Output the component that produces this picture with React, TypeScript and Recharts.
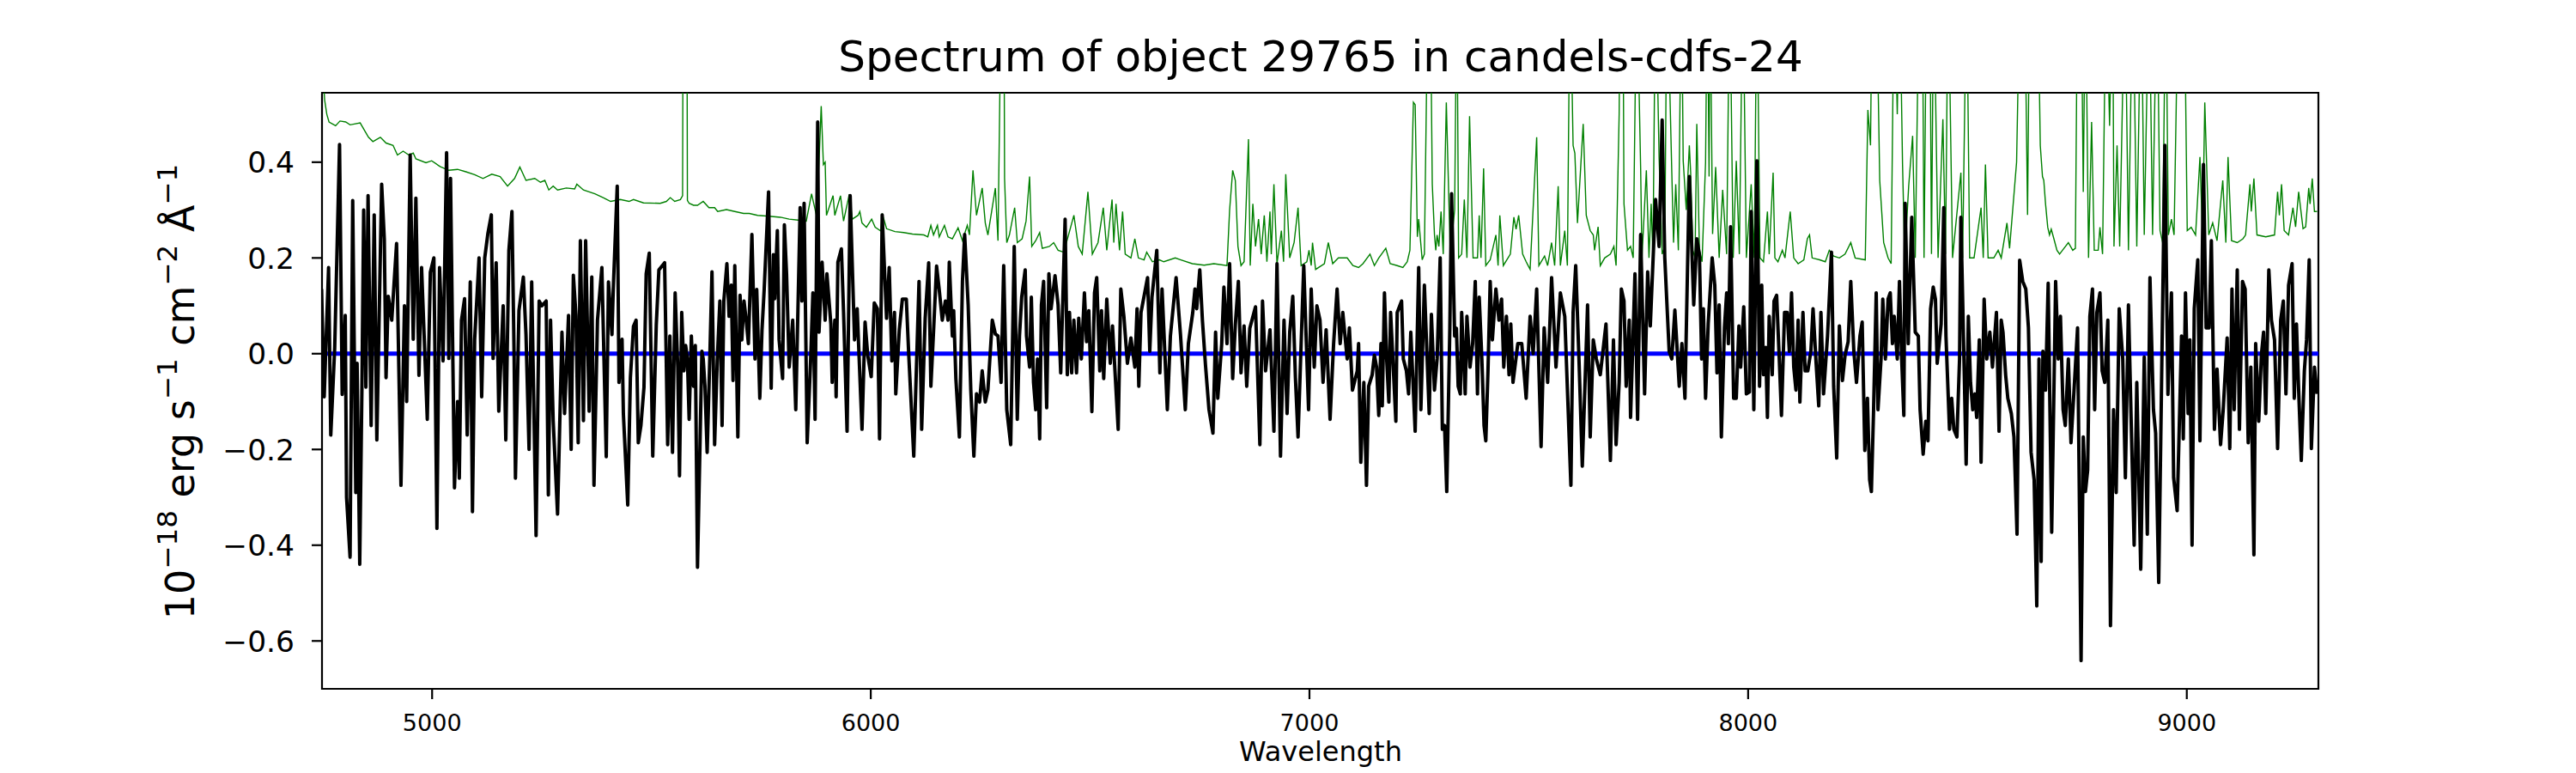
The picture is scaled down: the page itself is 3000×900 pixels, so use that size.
import { LineChart, Line, XAxis, YAxis, ReferenceArea } from 'recharts';

// wavelength range and ticks
const waveMin = 4749;
const waveMax = 9300;
const fluxMin = -0.7;
const fluxMax = 0.545;
const waveTicks = [5000, 6000, 7000, 8000, 9000];
const fluxTicks = [-0.6, -0.4, -0.2, 0.0, 0.2, 0.4];

// object spectrum, [wavelength, flux] pairs
const flux4750 = [
  [4748, 0.135], [4754, -0.09], [4764, 0.18], [4769, -0.17], [4778, 0.013], [4789, 0.437], [4795, -0.085],
  [4802, 0.08], [4805, -0.3], [4813, -0.425], [4819, 0.32], [4826, -0.29], [4829, -0.02], [4835, -0.44],
  [4840, -0.07], [4844, 0.3], [4849, -0.07], [4854, 0.33], [4861, -0.15], [4868, 0.29], [4874, -0.18],
  [4885, 0.354], [4891, 0.24], [4895, -0.05], [4900, 0.12], [4908, 0.07], [4919, 0.23], [4929, -0.275],
  [4937, 0.1], [4942, -0.1], [4950, 0.415], [4957, 0.03], [4963, 0.325], [4970, -0.045], [4976, 0.18],
  [4989, -0.137], [4996, 0.17], [5004, 0.2], [5011, -0.365], [5017, 0.18], [5025, -0.015], [5033, 0.42],
  [5038, -0.01], [5042, 0.366], [5051, -0.28], [5058, -0.1], [5062, -0.26], [5067, 0.07], [5074, 0.115],
  [5080, -0.17], [5087, 0.15], [5092, -0.33], [5097, 0.03], [5107, 0.2], [5113, -0.09], [5120, 0.2],
  [5127, 0.25], [5135, 0.29], [5139, -0.01], [5146, 0.19], [5152, -0.12], [5162, 0.1], [5168, -0.18],
  [5175, 0.215], [5182, 0.297], [5187, -0.01], [5190, -0.26], [5198, 0.09], [5208, 0.16], [5214, 0.04],
  [5221, -0.2], [5227, 0.15], [5237, -0.38], [5244, 0.11], [5250, 0.1], [5260, 0.11], [5265, -0.295],
  [5270, 0.07], [5276, -0.14], [5286, -0.335], [5296, 0.045], [5302, -0.125], [5311, 0.08], [5317, -0.2],
  [5322, 0.164], [5328, 0.08], [5333, -0.186], [5338, 0.236], [5345, -0.14], [5350, 0.236], [5358, -0.12],
  [5364, 0.16], [5369, -0.275], [5377, 0.07], [5387, 0.18], [5397, -0.215], [5402, 0.15], [5410, 0.04],
  [5413, 0.135], [5422, 0.35], [5426, -0.06], [5433, 0.03], [5436, -0.125], [5446, -0.316], [5452, -0.05],
  [5459, 0.057], [5465, 0.07], [5470, -0.186], [5476, -0.15], [5483, -0.07], [5488, 0.167], [5495, 0.21],
  [5503, -0.214], [5511, 0.06], [5517, 0.175],
];

const flux5520 = [
  [5530, 0.19], [5537, -0.19], [5542, 0.037], [5548, -0.206], [5554, 0.127], [5560, -0.028], [5564, -0.255],
  [5569, 0.086], [5574, -0.036], [5578, 0.017], [5582, -0.011], [5586, -0.137], [5591, 0.037], [5596, -0.068],
  [5600, 0.017], [5605, -0.446], [5615, 0.005], [5618, -0.011], [5622, -0.068], [5627, -0.206], [5633, -0.011],
  [5638, 0.171], [5644, -0.19], [5650, -0.015], [5656, 0.11], [5661, -0.15], [5665, 0.11], [5672, 0.188],
  [5677, 0.078], [5682, 0.143], [5686, -0.056], [5690, 0.184], [5697, -0.174], [5702, 0.122], [5706, 0.029],
  [5711, 0.11], [5716, 0.07], [5721, 0.021], [5729, 0.249], [5736, -0.011], [5740, 0.134], [5747, -0.093],
  [5752, 0.049], [5757, 0.134], [5767, 0.338], [5773, -0.072], [5778, 0.207], [5781, 0.115], [5787, 0.257],
  [5791, 0.029], [5799, -0.052], [5803, 0.269], [5808, 0.167], [5814, -0.028], [5822, 0.07], [5829, -0.117],
  [5839, 0.305], [5843, 0.11], [5848, 0.314], [5855, -0.186], [5863, -0.011], [5868, 0.127], [5873, -0.137],
  [5879, 0.484], [5882, 0.045], [5889, 0.191], [5896, 0.07], [5900, 0.167], [5909, 0.062], [5912, -0.06],
  [5918, 0.07], [5921, -0.09], [5925, 0.191], [5933, 0.219], [5938, 0.086], [5946, -0.162], [5953, 0.33],
  [5963, 0.029], [5969, 0.094], [5980, -0.158], [5987, 0.066], [5993, -0.003], [6001, -0.048], [6008, 0.106],
  [6015, 0.094], [6020, -0.178], [6026, 0.29], [6036, 0.074], [6042, 0.18], [6048, -0.015], [6054, 0.086],
  [6057, -0.084], [6065, 0.05], [6072, 0.114], [6081, 0.114], [6087, -0.011], [6098, -0.214], [6110, 0.151],
  [6116, -0.158], [6124, 0.074], [6132, 0.19], [6137, -0.068], [6143, 0.045], [6150, 0.183], [6156, 0.134],
  [6163, 0.07], [6170, 0.11], [6176, 0.07], [6179, 0.191], [6186, 0.037], [6189, 0.09], [6194, -0.052],
  [6202, -0.174], [6209, 0.151], [6214, 0.249], [6222, 0.102], [6228, -0.076], [6235, -0.214], [6241, -0.084],
  [6248, -0.101], [6254, -0.036], [6261, -0.101], [6267, -0.076], [6277, 0.07], [6284, 0.041], [6290, 0.037],
  [6297, -0.06],
];

const flux6300 = [
  [6303, 0.184], [6310, -0.117], [6319, -0.19], [6327, 0.224], [6334, -0.137], [6339, 0.037], [6344, 0.118],
  [6352, 0.175], [6355, 0.037], [6362, -0.028], [6366, 0.118], [6371, -0.06], [6376, -0.117], [6380, -0.011],
  [6385, -0.178], [6389, 0.102], [6394, 0.151], [6401, -0.113], [6406, 0.167], [6411, 0.094], [6420, 0.163],
  [6427, 0.102], [6433, -0.04], [6443, 0.281], [6448, -0.044], [6453, 0.086], [6458, -0.04], [6463, 0.07],
  [6469, -0.04], [6474, 0.074], [6480, -0.011], [6487, 0.127], [6492, 0.025], [6497, 0.09], [6504, -0.121],
  [6510, 0.127], [6515, 0.159], [6522, -0.036], [6526, 0.09], [6531, -0.052], [6538, 0.114], [6546, -0.02],
  [6551, 0.058], [6564, -0.158], [6570, 0.135], [6577, 0.078], [6585, -0.02], [6593, 0.033], [6602, -0.028],
  [6607, 0.094], [6611, -0.068], [6616, 0.086], [6631, 0.159], [6636, 0.005], [6641, 0.118], [6652, 0.216],
  [6659, -0.04], [6664, 0.135], [6676, -0.117], [6683, 0.037], [6696, 0.159], [6706, 0.04], [6717, -0.117],
  [6724, 0.021], [6734, 0.086], [6739, 0.135], [6743, 0.094], [6750, 0.175], [6756, 0.07], [6763, -0.024],
  [6771, -0.117], [6780, -0.166], [6786, 0.045], [6791, -0.093], [6800, 0.021], [6805, 0.139], [6812, 0.021],
  [6818, 0.188], [6825, -0.052], [6831, 0.06], [6838, 0.151], [6844, -0.04], [6851, 0.058], [6857, -0.068],
  [6864, 0.053], [6877, 0.098], [6887, -0.19], [6893, 0.11], [6900, -0.036], [6910, 0.05], [6919, -0.162],
  [6926, 0.188], [6934, -0.214], [6942, 0.07], [6949, -0.125], [6955, 0.045], [6962, 0.12], [6968, -0.05],
  [6974, -0.174], [6981, 0.02], [6987, 0.184], [6998, -0.117], [7004, 0.135], [7011, -0.028], [7017, 0.1],
  [7024, 0.07], [7031, -0.06], [7038, 0.05], [7047, -0.137], [7055, 0.02], [7063, 0.135], [7070, 0.021],
  [7076, 0.086], [7086, -0.011],
];

const flux7090 = [
  [7091, 0.054], [7098, -0.076], [7109, -0.036], [7112, 0.021], [7117, -0.227], [7124, -0.06], [7130, -0.275],
  [7135, -0.068], [7143, -0.044], [7148, -0.003], [7153, -0.028], [7158, -0.129], [7163, 0.021], [7166, -0.109],
  [7171, 0.127], [7176, -0.011], [7181, -0.101], [7185, 0.086], [7197, -0.141], [7200, 0.086], [7210, 0.11],
  [7214, -0.011], [7221, -0.036], [7226, -0.084], [7231, 0.045], [7241, -0.162], [7249, 0.18], [7254, -0.117],
  [7262, 0.143], [7273, -0.125], [7278, 0.082], [7285, -0.076], [7291, -0.011], [7298, 0.2], [7303, -0.158],
  [7308, -0.15], [7313, -0.288], [7320, 0.053], [7324, 0.334], [7331, 0.037], [7335, 0.053], [7339, -0.068],
  [7344, -0.084], [7347, 0.086], [7355, -0.084], [7359, 0.078], [7366, -0.028], [7372, 0.021], [7378, 0.151],
  [7383, -0.084], [7387, 0.118], [7393, -0.011], [7398, -0.15], [7402, -0.182], [7407, -0.036], [7412, 0.151],
  [7417, 0.029], [7425, 0.135], [7432, 0.07], [7438, 0.114], [7443, -0.028], [7449, 0.078], [7455, -0.044],
  [7459, 0.062], [7464, -0.06], [7475, 0.021], [7484, 0.021], [7494, -0.093], [7503, 0.078], [7510, 0.0],
  [7518, 0.135], [7528, -0.194], [7535, 0.054], [7543, -0.06], [7552, 0.159], [7562, -0.028], [7572, 0.127],
  [7582, 0.078], [7596, -0.275], [7601, 0.086], [7607, 0.184], [7614, 0.0], [7622, -0.235], [7634, 0.102],
  [7640, -0.174], [7647, 0.029], [7654, -0.011], [7663, -0.044], [7676, 0.062], [7686, -0.223], [7693, 0.029],
  [7699, -0.19], [7706, -0.06], [7711, 0.135], [7717, 0.11], [7722, -0.068], [7729, 0.07], [7732, -0.133],
  [7742, 0.167], [7748, -0.137], [7755, 0.249], [7764, -0.084], [7771, 0.171], [7777, 0.058], [7789, 0.322],
  [7797, 0.224], [7804, 0.488], [7810, 0.2], [7820, 0.005], [7826, -0.011], [7833, 0.091], [7843, -0.068],
  [7849, 0.021], [7856, -0.093], [7866, 0.37],
];

const flux7870 = [
  [7876, 0.102], [7883, 0.24], [7889, 0.207], [7894, -0.011], [7898, 0.094], [7903, -0.093], [7909, 0.062],
  [7918, 0.2], [7924, 0.143], [7929, -0.04], [7934, 0.102], [7939, -0.174], [7946, 0.054], [7951, 0.127],
  [7955, 0.021], [7960, 0.265], [7967, -0.093], [7973, -0.093], [7979, 0.058], [7983, -0.028], [7990, 0.098],
  [7996, -0.084], [8003, -0.08], [8007, 0.297], [8013, -0.117], [8020, 0.403], [8026, -0.068], [8031, 0.143],
  [8035, -0.044], [8040, 0.013], [8044, -0.133], [8048, 0.078], [8055, -0.044], [8059, 0.11], [8065, 0.122],
  [8071, -0.011], [8076, -0.129], [8083, 0.086], [8089, 0.086], [8094, 0.005], [8099, 0.127], [8104, -0.028],
  [8109, -0.076], [8114, 0.07], [8118, -0.101], [8125, 0.086], [8130, -0.036], [8136, -0.036], [8143, 0.005],
  [8148, 0.094], [8155, -0.02], [8161, -0.109], [8166, 0.086], [8172, -0.084], [8181, 0.037], [8190, 0.212],
  [8195, -0.068], [8202, -0.218], [8208, 0.058], [8215, -0.056], [8221, -0.003], [8228, 0.025], [8234, 0.151],
  [8241, 0.005], [8247, -0.06], [8255, 0.037], [8260, 0.066], [8266, -0.202], [8272, -0.093], [8277, -0.263],
  [8281, -0.288], [8286, -0.117], [8292, 0.127], [8296, -0.117], [8303, -0.011], [8307, 0.114], [8313, -0.011],
  [8319, 0.114], [8324, 0.127], [8329, 0.021], [8333, 0.078], [8340, -0.011], [8345, 0.151], [8350, -0.011],
  [8355, -0.129], [8358, 0.314], [8365, 0.021], [8373, 0.285], [8381, 0.045], [8388, 0.037], [8392, -0.117],
  [8399, -0.21], [8405, -0.141], [8410, -0.182], [8416, 0.094], [8422, 0.139], [8427, 0.114], [8431, -0.02],
  [8440, 0.062], [8446, 0.305], [8451, 0.037], [8459, -0.158], [8464, -0.093], [8469, -0.158], [8476, -0.174],
  [8482, -0.011], [8485, 0.285], [8492, -0.011], [8497, -0.231], [8502, 0.078], [8507, -0.06], [8512, -0.117],
  [8517, -0.084], [8521, -0.133], [8527, 0.029], [8531, -0.227], [8538, 0.114], [8544, -0.011], [8551, 0.045],
  [8557, -0.028], [8566, 0.086], [8572, -0.162], [8577, 0.07], [8581, 0.045], [8587, -0.044], [8592, -0.093],
  [8600, -0.125], [8606, -0.174], [8613, -0.377], [8619, 0.195], [8626, 0.151], [8633, 0.135], [8639, 0.054],
  [8645, -0.206], [8652, -0.263],
];

const flux8650 = [
  [8658, -0.527], [8663, -0.011], [8668, -0.434], [8672, 0.005], [8678, -0.076], [8684, 0.147], [8692, -0.373],
  [8701, 0.151], [8707, -0.011], [8712, 0.078], [8718, -0.117], [8723, -0.15], [8730, -0.011], [8736, -0.186],
  [8743, -0.076], [8751, 0.054], [8759, -0.641], [8764, -0.174], [8769, -0.288], [8774, -0.243], [8779, 0.078],
  [8785, 0.135], [8790, -0.117], [8795, 0.086], [8802, 0.127], [8807, -0.036], [8813, -0.06], [8820, 0.07],
  [8826, -0.568], [8833, -0.117], [8839, -0.29], [8846, 0.094], [8854, -0.011], [8860, -0.259], [8867, 0.102],
  [8873, -0.133], [8880, -0.4], [8886, -0.06], [8895, -0.45], [8903, -0.007], [8910, -0.377], [8916, 0.159],
  [8924, -0.117], [8929, -0.166], [8936, -0.478], [8942, -0.093], [8950, 0.435], [8957, -0.085], [8965, 0.127],
  [8970, -0.259], [8978, -0.328], [8988, 0.037], [8992, -0.178], [8997, 0.127], [9003, -0.125], [9007, 0.029],
  [9012, -0.4], [9017, 0.094], [9025, 0.196], [9030, -0.182], [9038, 0.395], [9044, 0.054], [9051, 0.054],
  [9056, 0.236], [9063, -0.158], [9069, -0.032], [9077, -0.19], [9083, -0.117], [9092, 0.033], [9098, -0.198],
  [9103, 0.135], [9108, -0.117], [9115, 0.175], [9120, -0.158], [9127, 0.151], [9133, 0.135], [9140, -0.186],
  [9146, -0.028], [9153, -0.42], [9157, 0.021], [9164, -0.141], [9170, -0.003], [9175, 0.045], [9180, -0.125],
  [9187, 0.175], [9193, 0.07], [9200, 0.029], [9207, -0.198], [9214, 0.07], [9220, 0.11], [9226, -0.084],
  [9232, 0.143], [9240, 0.188], [9245, -0.093], [9250, 0.062], [9255, -0.076], [9261, -0.223], [9268, -0.036],
  [9273, 0.029], [9279, 0.196], [9284, -0.198], [9291, -0.028], [9297, -0.084],
];

// noise spectrum (green), [wavelength, sigma] pairs; sky lines run off the top
const noise4750 = [
  [4749, 0.62], [4755, 0.53], [4760, 0.5], [4765, 0.484], [4780, 0.476], [4790, 0.486], [4803, 0.484],
  [4813, 0.478], [4836, 0.482], [4855, 0.452], [4865, 0.443], [4882, 0.452], [4895, 0.44], [4911, 0.435],
  [4921, 0.415], [4934, 0.423], [4947, 0.415], [4957, 0.419], [4963, 0.407], [4986, 0.399], [4999, 0.403],
  [5018, 0.391], [5038, 0.383], [5058, 0.385], [5077, 0.38], [5097, 0.374], [5116, 0.366], [5136, 0.375],
  [5155, 0.37], [5172, 0.35], [5188, 0.366], [5200, 0.39], [5214, 0.362], [5234, 0.366], [5247, 0.358],
  [5257, 0.362], [5266, 0.342], [5276, 0.35], [5286, 0.342], [5306, 0.346], [5325, 0.344], [5330, 0.354],
  [5345, 0.342], [5371, 0.334], [5390, 0.326], [5407, 0.318], [5429, 0.322], [5449, 0.318], [5459, 0.322],
  [5482, 0.315], [5520, 0.314],
];

const noise5520 = [
  [5534, 0.318], [5543, 0.326], [5553, 0.318], [5566, 0.322], [5571, 0.33], [5574, 1.5], [5579, 1.5],
  [5582, 0.32], [5586, 0.314], [5596, 0.31], [5605, 0.31], [5618, 0.318], [5631, 0.305], [5644, 0.305],
  [5651, 0.297], [5671, 0.301], [5690, 0.297], [5710, 0.293], [5723, 0.293], [5742, 0.289], [5768, 0.287],
  [5794, 0.285], [5814, 0.281], [5834, 0.279], [5853, 0.277], [5865, 0.334], [5876, 0.289], [5882, 0.4],
  [5887, 0.517], [5892, 0.395], [5896, 0.4], [5899, 0.289], [5914, 0.33], [5918, 0.289], [5931, 0.33],
  [5938, 0.277], [5951, 0.333], [5958, 0.281], [5971, 0.289], [5975, 0.297], [5980, 0.273], [5990, 0.264],
  [6002, 0.281], [6010, 0.264], [6023, 0.256], [6026, 0.293], [6036, 0.261], [6055, 0.255], [6075, 0.253],
  [6095, 0.25], [6121, 0.248], [6130, 0.244], [6137, 0.268], [6143, 0.248], [6152, 0.268], [6156, 0.244],
  [6168, 0.268], [6176, 0.244], [6186, 0.24], [6199, 0.263], [6209, 0.236], [6220, 0.268], [6225, 0.248],
  [6233, 0.383], [6241, 0.289], [6254, 0.346], [6261, 0.273], [6267, 0.248], [6276, 0.3], [6284, 0.346],
  [6290, 0.236], [6295, 0.6], [6297, 1.5], [6301, 1.5],
];

const noise6300 = [
  [6305, 0.366], [6310, 0.232], [6316, 0.248], [6328, 0.305], [6334, 0.232], [6345, 0.24], [6354, 0.277],
  [6362, 0.37], [6367, 0.224], [6376, 0.236], [6385, 0.253], [6391, 0.22], [6407, 0.224], [6417, 0.232],
  [6427, 0.216], [6440, 0.212], [6463, 0.289], [6473, 0.224], [6482, 0.208], [6495, 0.338], [6505, 0.208],
  [6518, 0.232], [6530, 0.305], [6538, 0.216], [6550, 0.322], [6554, 0.232], [6559, 0.313], [6567, 0.216],
  [6574, 0.297], [6580, 0.208], [6593, 0.2], [6602, 0.24], [6610, 0.2], [6623, 0.196], [6629, 0.212],
  [6642, 0.192], [6658, 0.196], [6668, 0.192], [6694, 0.2], [6707, 0.196], [6733, 0.188], [6760, 0.185],
  [6782, 0.188], [6812, 0.184], [6818, 0.3], [6825, 0.383], [6831, 0.362], [6837, 0.224], [6844, 0.184],
  [6851, 0.192], [6861, 0.448], [6865, 0.184], [6871, 0.313], [6877, 0.224], [6884, 0.281], [6890, 0.208],
  [6897, 0.289], [6903, 0.192], [6910, 0.297], [6913, 0.208], [6919, 0.354], [6926, 0.188], [6936, 0.257],
  [6941, 0.192], [6946, 0.375], [6955, 0.2], [6965, 0.232], [6974, 0.305], [6981, 0.184], [6994, 0.192],
  [6999, 0.216], [7004, 0.184], [7007, 0.232], [7014, 0.176], [7034, 0.188], [7043, 0.232], [7053, 0.188],
  [7066, 0.2], [7086, 0.2],
];

const noise7090 = [
  [7099, 0.184], [7112, 0.18], [7122, 0.188], [7138, 0.208], [7148, 0.184], [7158, 0.2], [7174, 0.22],
  [7184, 0.188], [7200, 0.184], [7213, 0.18], [7223, 0.192], [7229, 0.216], [7237, 0.525], [7241, 0.52],
  [7246, 0.244], [7249, 0.281], [7257, 0.196], [7262, 0.208], [7269, 0.7], [7274, 0.9], [7280, 0.354],
  [7285, 0.248], [7288, 0.216], [7291, 0.248], [7295, 0.224], [7300, 0.297], [7305, 0.208], [7312, 0.525],
  [7321, 0.208], [7331, 0.3], [7336, 0.8], [7340, 0.2], [7347, 0.208], [7353, 0.322], [7359, 0.2],
  [7365, 0.496], [7373, 0.2], [7383, 0.2], [7387, 0.289], [7391, 0.2], [7397, 0.387], [7402, 0.184],
  [7412, 0.196], [7425, 0.248], [7430, 0.184], [7434, 0.289], [7442, 0.184], [7458, 0.208], [7466, 0.285],
  [7471, 0.26], [7477, 0.289], [7486, 0.208], [7494, 0.192], [7503, 0.176], [7518, 0.452], [7523, 0.184],
  [7536, 0.204], [7543, 0.184], [7552, 0.232], [7559, 0.184], [7567, 0.35], [7572, 0.184], [7582, 0.257],
  [7588, 0.184], [7594, 0.8], [7601, 0.435], [7605, 0.419], [7611, 0.273], [7624, 0.48], [7631, 0.289],
  [7640, 0.257], [7647, 0.248], [7650, 0.216], [7658, 0.265], [7663, 0.184], [7673, 0.2], [7686, 0.208],
  [7694, 0.224], [7699, 0.184], [7706, 0.5], [7709, 0.9], [7714, 0.9], [7717, 0.313], [7725, 0.216],
  [7732, 0.224], [7738, 0.2], [7746, 0.8], [7755, 0.387], [7758, 0.2], [7768, 0.383], [7774, 0.2],
  [7779, 0.313], [7783, 0.2], [7789, 0.8], [7797, 0.411], [7804, 0.208], [7810, 0.224], [7815, 0.8],
  [7826, 0.379], [7830, 0.232], [7835, 0.354], [7841, 0.216], [7848, 0.8], [7852, 0.403], [7859, 0.3],
  [7866, 0.435],
];

const noise7870 = [
  [7869, 0.378], [7874, 0.216], [7879, 0.2], [7883, 0.48], [7889, 0.216], [7895, 0.192], [7903, 0.4],
  [7907, 0.8], [7911, 0.37], [7913, 0.8], [7919, 0.25], [7926, 0.39], [7934, 0.2], [7942, 0.342],
  [7951, 0.208], [7958, 0.8], [7966, 0.2], [7973, 0.403], [7980, 0.208], [7988, 0.8], [7996, 0.2],
  [8007, 0.354], [8014, 0.2], [8020, 0.8], [8027, 0.2], [8035, 0.192], [8044, 0.297], [8048, 0.208],
  [8057, 0.378], [8061, 0.2], [8068, 0.192], [8078, 0.216], [8084, 0.2], [8096, 0.297], [8104, 0.2],
  [8114, 0.188], [8127, 0.196], [8135, 0.24], [8140, 0.248], [8146, 0.2], [8163, 0.196], [8176, 0.192],
  [8185, 0.216], [8195, 0.204], [8208, 0.2], [8221, 0.208], [8234, 0.232], [8244, 0.2], [8267, 0.196],
  [8273, 0.509], [8279, 0.435], [8283, 0.8], [8292, 0.8], [8300, 0.362], [8309, 0.232], [8319, 0.2],
  [8326, 0.188], [8333, 0.8], [8340, 0.5], [8345, 0.8], [8352, 0.395], [8357, 0.2], [8366, 0.35],
  [8375, 0.455], [8381, 0.2], [8390, 0.8], [8397, 0.8], [8401, 0.2], [8407, 0.8], [8414, 0.8],
  [8418, 0.208], [8423, 0.8], [8433, 0.2], [8444, 0.49], [8450, 0.208], [8456, 0.8], [8466, 0.2],
  [8485, 0.378], [8489, 0.2], [8498, 0.8], [8505, 0.2], [8515, 0.2], [8531, 0.305], [8536, 0.2],
  [8541, 0.395], [8547, 0.2], [8560, 0.2], [8570, 0.216], [8577, 0.2], [8590, 0.273], [8596, 0.22],
  [8612, 0.4], [8620, 0.8], [8630, 0.8], [8637, 0.29], [8642, 0.8], [8660, 0.8],
];

const noise8660 = [
  [8666, 0.435], [8671, 0.37], [8674, 0.362], [8678, 0.313], [8683, 0.264], [8687, 0.248], [8691, 0.26],
  [8697, 0.24], [8704, 0.216], [8710, 0.208], [8720, 0.22], [8730, 0.232], [8740, 0.216], [8746, 0.22],
  [8751, 0.8], [8759, 0.8], [8764, 0.338], [8769, 0.8], [8776, 0.2], [8783, 0.484], [8789, 0.216],
  [8798, 0.216], [8802, 0.264], [8808, 0.208], [8816, 0.8], [8824, 0.476], [8831, 0.8], [8834, 0.224],
  [8841, 0.435], [8847, 0.224], [8859, 0.8], [8867, 0.216], [8877, 0.8], [8886, 0.224], [8896, 0.8],
  [8903, 0.248], [8914, 0.8], [8922, 0.248], [8932, 0.8], [8939, 0.257], [8945, 0.232], [8952, 0.8],
  [8958, 0.248], [8965, 0.281], [8971, 0.248], [8981, 0.8], [8994, 0.8], [9001, 0.257], [9010, 0.264],
  [9020, 0.248], [9030, 0.411], [9036, 0.24], [9041, 0.525], [9050, 0.248], [9059, 0.273], [9069, 0.236],
  [9082, 0.362], [9089, 0.232], [9094, 0.411], [9102, 0.236], [9115, 0.232], [9128, 0.24], [9134, 0.248],
  [9144, 0.354], [9147, 0.297], [9153, 0.366], [9160, 0.248], [9180, 0.244], [9200, 0.248], [9207, 0.338],
  [9211, 0.289], [9216, 0.354], [9222, 0.257], [9232, 0.248], [9242, 0.305], [9248, 0.265], [9255, 0.338],
  [9265, 0.261], [9271, 0.265], [9278, 0.346], [9281, 0.313], [9286, 0.366], [9291, 0.297], [9297, 0.297],
];

const toRows = (pairs: number[][]) => pairs.map(([w, v]) => ({ w, v }));

const fluxData = toRows([...flux4750, ...flux5520, ...flux6300, ...flux7090, ...flux7870, ...flux8650]);
const noiseData = toRows([...noise4750, ...noise5520, ...noise6300, ...noise7090, ...noise7870, ...noise8660]);
const zeroData = toRows([[waveMin, 0], [waveMax, 0]]);

const FONT = '"DejaVu Sans", sans-serif';
const fmtFlux = (v: number) => v.toFixed(1).replace('-', '\u2212');

export default function App() {
  return (
    <div style={{ position: 'relative', width: 3000, height: 900, background: '#fff' }}>
      <style>{'body { margin: 0; }'}</style>
      <LineChart width={3000} height={900} margin={{ top: 108, right: 300, bottom: 0, left: 0 }}>
        <XAxis
          type="number"
          dataKey="w"
          domain={[waveMin, waveMax]}
          ticks={waveTicks}
          allowDataOverflow
          height={98}
          axisLine={false}
          tickSize={12}
          tickMargin={18}
          tickLine={{ stroke: '#000', strokeWidth: 2.2 }}
          tick={{ fill: '#000', fontSize: 27, fontFamily: FONT }}
        />
        <YAxis
          type="number"
          domain={[fluxMin, fluxMax]}
          ticks={fluxTicks}
          allowDataOverflow
          width={375}
          axisLine={false}
          tickSize={12}
          tickMargin={20}
          tickFormatter={fmtFlux}
          tickLine={{ stroke: '#000', strokeWidth: 2.2 }}
          tick={{ fill: '#000', fontSize: 34.5, fontFamily: FONT }}
        />
        <Line
          data={noiseData}
          dataKey="v"
          type="linear"
          stroke="#008000"
          strokeWidth={1.4}
          dot={false}
          activeDot={false}
          isAnimationActive={false}
        />
        <Line
          data={zeroData}
          dataKey="v"
          type="linear"
          stroke="#0000ff"
          strokeWidth={5}
          dot={false}
          activeDot={false}
          isAnimationActive={false}
        />
        <Line
          data={fluxData}
          dataKey="v"
          type="linear"
          stroke="#000"
          strokeWidth={4}
          strokeLinejoin="round"
          dot={false}
          activeDot={false}
          isAnimationActive={false}
        />
        <ReferenceArea
          x1={waveMin}
          x2={waveMax}
          y1={fluxMin}
          y2={fluxMax}
          fill="none"
          stroke="#000"
          strokeWidth={2.2}
        />
      </LineChart>
      <svg
        width={3000}
        height={900}
        style={{ position: 'absolute', left: 0, top: 0, pointerEvents: 'none' }}
        fontFamily={FONT}
      >
        <text x={1538} y={83} textAnchor="middle" fontSize={50} fill="#000">
          Spectrum of object 29765 in candels-cdfs-24
        </text>
        <text x={1538} y={886} textAnchor="middle" fontSize={32} fill="#000">
          Wavelength
        </text>
        <text transform="translate(226,456) rotate(-90)" textAnchor="middle" fontSize={46} fill="#000">
          10
          <tspan fontSize={32.5} dy={-20}>{'\u221218'}</tspan>
          <tspan dy={20}> erg s</tspan>
          <tspan fontSize={32.5} dy={-20}>{'\u22121'}</tspan>
          <tspan dy={20}> cm</tspan>
          <tspan fontSize={32.5} dy={-20}>{'\u22122'}</tspan>
          <tspan dy={20}> Å</tspan>
          <tspan fontSize={32.5} dy={-20}>{'\u22121'}</tspan>
        </text>
      </svg>
    </div>
  );
}
